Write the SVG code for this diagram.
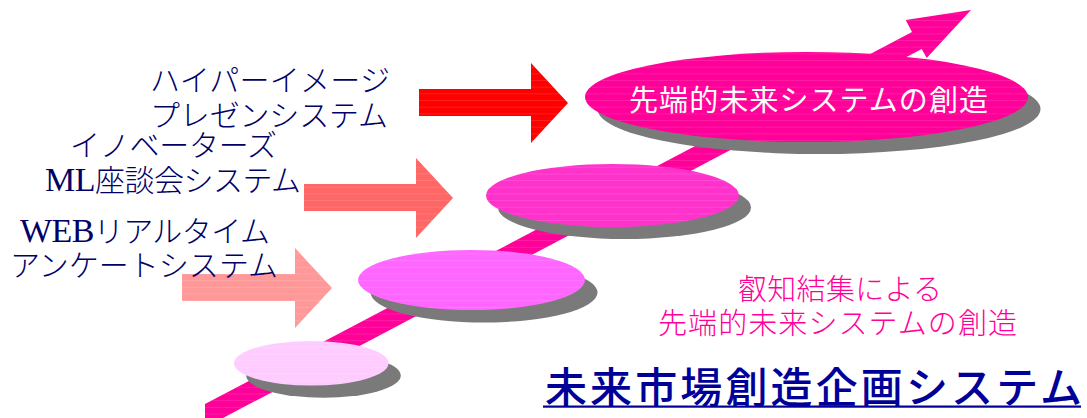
<svg xmlns="http://www.w3.org/2000/svg" width="1087" height="418" viewBox="0 0 1087 418">
<style>
text{font-family:"Liberation Serif","Noto Sans CJK JP",serif;font-size:30px;fill:#000066;font-weight:300}
.l{font-size:34px}
.w{fill:#fff;font-size:29px;font-weight:400}
.p{fill:#ff0099;font-size:29px}
.t{fill:#000099;font-size:42px;font-weight:500}
.s{fill:#7a7a7a}
.o{fill:url(#st)}
</style>
<defs><pattern id="st" patternUnits="userSpaceOnUse" width="40" height="6.67"><rect y="0" width="40" height="0.7" fill="#fff" opacity="0.16"/></pattern></defs>
<g id="connectors">
<path id="growth" d="M205 404L912 32 905.7 20 971 10 926.7 58 921.7 49 223 418H205Z" fill="#ff0099"/>
<path class="o" d="M205 404L912 32 905.7 20 971 10 926.7 58 921.7 49 223 418H205Z"/>
<path d="M419 89H531V63L568 103 531 143V116H419Z" fill="#ff0000"/>
<path class="o" d="M419 89H531V63L568 103 531 143V116H419Z"/>
<path d="M304 184H416V158L453 198 416 238V211H304Z" fill="#ff6666"/>
<path class="o" d="M304 184H416V158L453 198 416 238V211H304Z"/>
<path d="M182 274H295V248L332 288 295 328V301H182Z" fill="#ff9999"/>
<path class="o" d="M182 274H295V248L332 288 295 328V301H182Z"/>
</g>
<g id="node4"><ellipse class="s" cx="323.5" cy="375.5" rx="77.3" ry="22.3"/><ellipse cx="311.3" cy="363.3" rx="77.3" ry="22.3" fill="#ffccff"/><ellipse class="o" cx="311.3" cy="363.3" rx="77.3" ry="22.3"/></g>
<g id="node3"><ellipse class="s" cx="484" cy="292.5" rx="113.5" ry="30"/><ellipse cx="471.5" cy="280" rx="113.5" ry="30" fill="#ff66ff"/><ellipse class="o" cx="471.5" cy="280" rx="113.5" ry="30"/></g>
<g id="node2"><ellipse class="s" cx="624.5" cy="207.5" rx="126.5" ry="31.5"/><ellipse cx="612.5" cy="195.5" rx="126.5" ry="31.5" fill="#ff33cc"/><ellipse class="o" cx="612.5" cy="195.5" rx="126.5" ry="31.5"/></g>
<g id="node1"><ellipse class="s" cx="819" cy="109" rx="221.5" ry="45"/><ellipse cx="806.5" cy="97" rx="221.5" ry="45" fill="#ff0099"/><ellipse class="o" cx="806.5" cy="97" rx="221.5" ry="45"/>
<text class="w" x="629" y="110.5" textLength="359">先端的未来システムの創造</text></g>
<g id="labels">
<text x="150" y="91" textLength="240">ハイパーイメージ</text>
<text x="150" y="126" textLength="238">プレゼンシステム</text>
<text x="70" y="155.5" textLength="207">イノベーターズ</text>
<text x="45" y="191" textLength="256"><tspan class="l">ML</tspan>座談会システム</text>
<text x="20" y="242" textLength="250"><tspan class="l">WEB</tspan>リアルタイム</text>
<text x="10" y="276" textLength="268">アンケートシステム</text>
<text class="p" x="738" y="300" textLength="204">叡知結集による</text>
<text class="p" x="658" y="334" textLength="359">先端的未来システムの創造</text>
<text class="t" x="545" y="402.5" textLength="537">未来市場創造企画システム</text>
<rect x="543" y="405.5" width="538" height="2.2" fill="#000099"/>
</g>
</svg>
